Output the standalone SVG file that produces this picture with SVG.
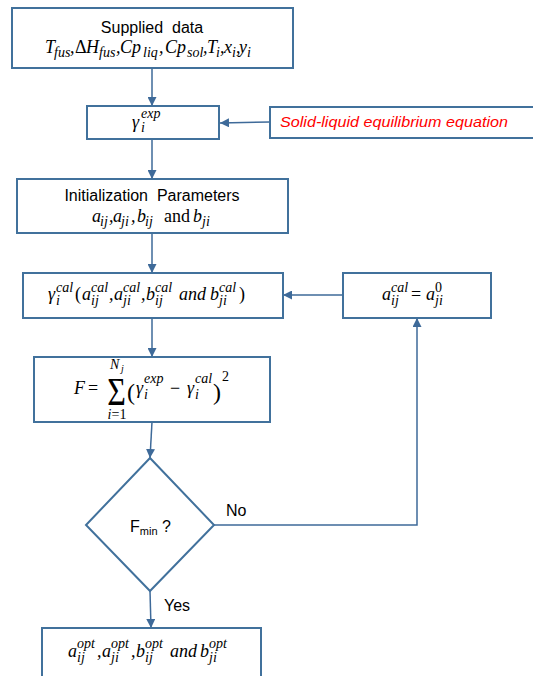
<svg xmlns="http://www.w3.org/2000/svg" width="533" height="676" viewBox="0 0 533 676">
<defs>
<marker id="ah" markerUnits="userSpaceOnUse" markerWidth="9" markerHeight="9" refX="9" refY="4.5" orient="auto"><path d="M0,0 L9,4.5 L0,9 z" fill="#3E6A99"/></marker>
<style>
.box{fill:#fff;stroke:#41719C;stroke-width:2}
.conn{fill:none;stroke:#3E6A99;stroke-width:1.5}
.t{font-family:"Liberation Sans",Arial,sans-serif;font-size:16px;fill:#000;white-space:pre}
.m{font-family:"Liberation Serif","Times New Roman",serif;font-style:italic;font-size:18px;fill:#000}
.s{font-size:14px}
.u{font-style:normal}
.red{font-family:"Liberation Sans",Arial,sans-serif;font-style:italic;font-size:15px;fill:#FF0000}
</style>
</defs>
<rect width="533" height="676" fill="#fff"/>

<g id="connectors">
<line class="conn" x1="152" y1="68" x2="152" y2="106" marker-end="url(#ah)"/>
<line class="conn" x1="270" y1="122" x2="220" y2="123" marker-end="url(#ah)"/>
<line class="conn" x1="152" y1="139" x2="152" y2="179" marker-end="url(#ah)"/>
<line class="conn" x1="152" y1="233" x2="152" y2="273" marker-end="url(#ah)"/>
<line class="conn" x1="343" y1="295" x2="283" y2="295" marker-end="url(#ah)"/>
<line class="conn" x1="152" y1="318" x2="152" y2="357" marker-end="url(#ah)"/>
<line class="conn" x1="152" y1="422" x2="150" y2="458" marker-end="url(#ah)"/>
<polyline class="conn" points="214,525 417,525 417,318" marker-end="url(#ah)"/>
<line class="conn" x1="150" y1="591" x2="151" y2="628" marker-end="url(#ah)"/>
<text class="t" x="226" y="516">No</text>
<text class="t" x="164" y="611">Yes</text>
</g>

<g id="supplied">
<rect class="box" x="12" y="8" width="281" height="60"/>
<text class="t" x="152" y="33" text-anchor="middle">Supplied  data</text>
<text class="m"><tspan x="45" y="53">T</tspan><tspan class="s" x="54" y="57">fus</tspan><tspan x="70" y="53">,</tspan><tspan class="u" x="75" y="53">Δ</tspan><tspan x="86" y="53">H</tspan><tspan class="s" x="99" y="57">fus</tspan><tspan x="116" y="53">,</tspan><tspan x="120" y="53">Cp</tspan><tspan class="s" x="143" y="57">liq</tspan><tspan x="159" y="53">,</tspan><tspan x="165" y="53">Cp</tspan><tspan class="s" x="187" y="57">sol</tspan><tspan x="203" y="53">,</tspan><tspan x="207" y="53">T</tspan><tspan class="s" x="216" y="57">i</tspan><tspan x="220" y="53">,</tspan><tspan x="224" y="53">x</tspan><tspan class="s" x="232" y="57">i</tspan><tspan x="236" y="53">,</tspan><tspan x="239" y="53">y</tspan><tspan class="s" x="247" y="57">i</tspan></text>
</g>

<g id="gamma-exp">
<rect class="box" x="87" y="106" width="132" height="33"/>
<text class="m"><tspan x="132" y="128">γ</tspan><tspan class="s" x="141" y="118">exp</tspan><tspan class="s" x="141" y="132">i</tspan></text>
</g>

<g id="sle">
<rect class="box" x="270" y="107" width="280" height="31"/>
<text class="red" x="280" y="127" textLength="228" lengthAdjust="spacingAndGlyphs">Solid-liquid equilibrium equation</text>
</g>

<g id="init">
<rect class="box" x="17" y="179" width="271" height="54"/>
<text class="t" x="152" y="201" text-anchor="middle">Initialization  Parameters</text>
<text class="m"><tspan x="92" y="222">a</tspan><tspan class="s" x="100" y="226">ij</tspan><tspan x="109" y="222">,</tspan><tspan x="113" y="222">a</tspan><tspan class="s" x="121" y="226">ji</tspan><tspan x="131" y="222">,</tspan><tspan x="137" y="222">b</tspan><tspan class="s" x="145" y="226">ij</tspan><tspan class="u" x="164" y="222">and</tspan><tspan x="193" y="222">b</tspan><tspan class="s" x="202" y="226">ji</tspan></text>
</g>

<g id="gamma-cal">
<rect class="box" x="23" y="273" width="260" height="45"/>
<text class="m"><tspan x="48" y="300">γ</tspan><tspan class="s" x="56" y="292">cal</tspan><tspan class="s" x="56" y="305">i</tspan><tspan class="u" x="75" y="300">(</tspan><tspan x="82" y="300">a</tspan><tspan class="s" x="91" y="292">cal</tspan><tspan class="s" x="91" y="305">ij</tspan><tspan x="109" y="300">,</tspan><tspan x="114" y="300">a</tspan><tspan class="s" x="123" y="292">cal</tspan><tspan class="s" x="123" y="305">ji</tspan><tspan x="141" y="300">,</tspan><tspan x="146" y="300">b</tspan><tspan class="s" x="155" y="292">cal</tspan><tspan class="s" x="155" y="305">ij</tspan><tspan x="179" y="300">and</tspan><tspan x="210" y="300">b</tspan><tspan class="s" x="219" y="292">cal</tspan><tspan class="s" x="219" y="305">ji</tspan><tspan class="u" x="239" y="300">)</tspan></text>
</g>

<g id="a-cal">
<rect class="box" x="343" y="273" width="148" height="45"/>
<text class="m"><tspan x="382" y="300">a</tspan><tspan class="s" x="391" y="292">cal</tspan><tspan class="s" x="391" y="305">ij</tspan><tspan class="u" x="411" y="300">=</tspan><tspan x="426" y="300">a</tspan><tspan class="s u" x="435" y="292">0</tspan><tspan class="s" x="435" y="305">ji</tspan></text>
</g>

<g id="objective">
<rect class="box" x="34" y="357" width="236" height="65"/>
<text class="m"><tspan x="74" y="394">F</tspan><tspan class="u" x="88" y="394">=</tspan></text>
<text class="m u" transform="translate(116.5,405) scale(1,1.25)" text-anchor="middle" style="font-size:32px">Σ</text>
<text class="m s"><tspan x="110" y="369">N</tspan><tspan x="121" y="372" style="font-size:10px">j</tspan></text>
<text class="m s" x="117" y="419" text-anchor="middle">i<tspan class="u">=1</tspan></text>
<text class="m u" style="font-size:24px"><tspan x="127" y="400">(</tspan><tspan x="213" y="400">)</tspan></text>
<text class="m"><tspan x="136" y="394">γ</tspan><tspan class="s" x="144" y="383">exp</tspan><tspan class="s" x="144" y="399">i</tspan><tspan class="u" x="170" y="394">−</tspan><tspan x="187" y="394">γ</tspan><tspan class="s" x="195" y="383">cal</tspan><tspan class="s" x="195" y="399">i</tspan><tspan class="s u" x="222" y="381">2</tspan></text>
</g>

<g id="decision">
<polygon class="box" points="150,458 214,525 150,591 86,525"/>
<text class="t" x="130" y="532">F<tspan style="font-size:11px" dy="3">min</tspan><tspan dy="-3"> ?</tspan></text>
</g>

<g id="optimal">
<rect class="box" x="42" y="628" width="219" height="60"/>
<text class="m"><tspan x="68" y="657">a</tspan><tspan class="s" x="77" y="648">opt</tspan><tspan class="s" x="77" y="662">ij</tspan><tspan x="97" y="657">,</tspan><tspan x="102" y="657">a</tspan><tspan class="s" x="111" y="648">opt</tspan><tspan class="s" x="111" y="662">ji</tspan><tspan x="131" y="657">,</tspan><tspan x="136" y="657">b</tspan><tspan class="s" x="145" y="648">opt</tspan><tspan class="s" x="145" y="662">ij</tspan><tspan x="170" y="657">and</tspan><tspan x="200" y="657">b</tspan><tspan class="s" x="209" y="648">opt</tspan><tspan class="s" x="209" y="662">ji</tspan></text>
</g>
</svg>
